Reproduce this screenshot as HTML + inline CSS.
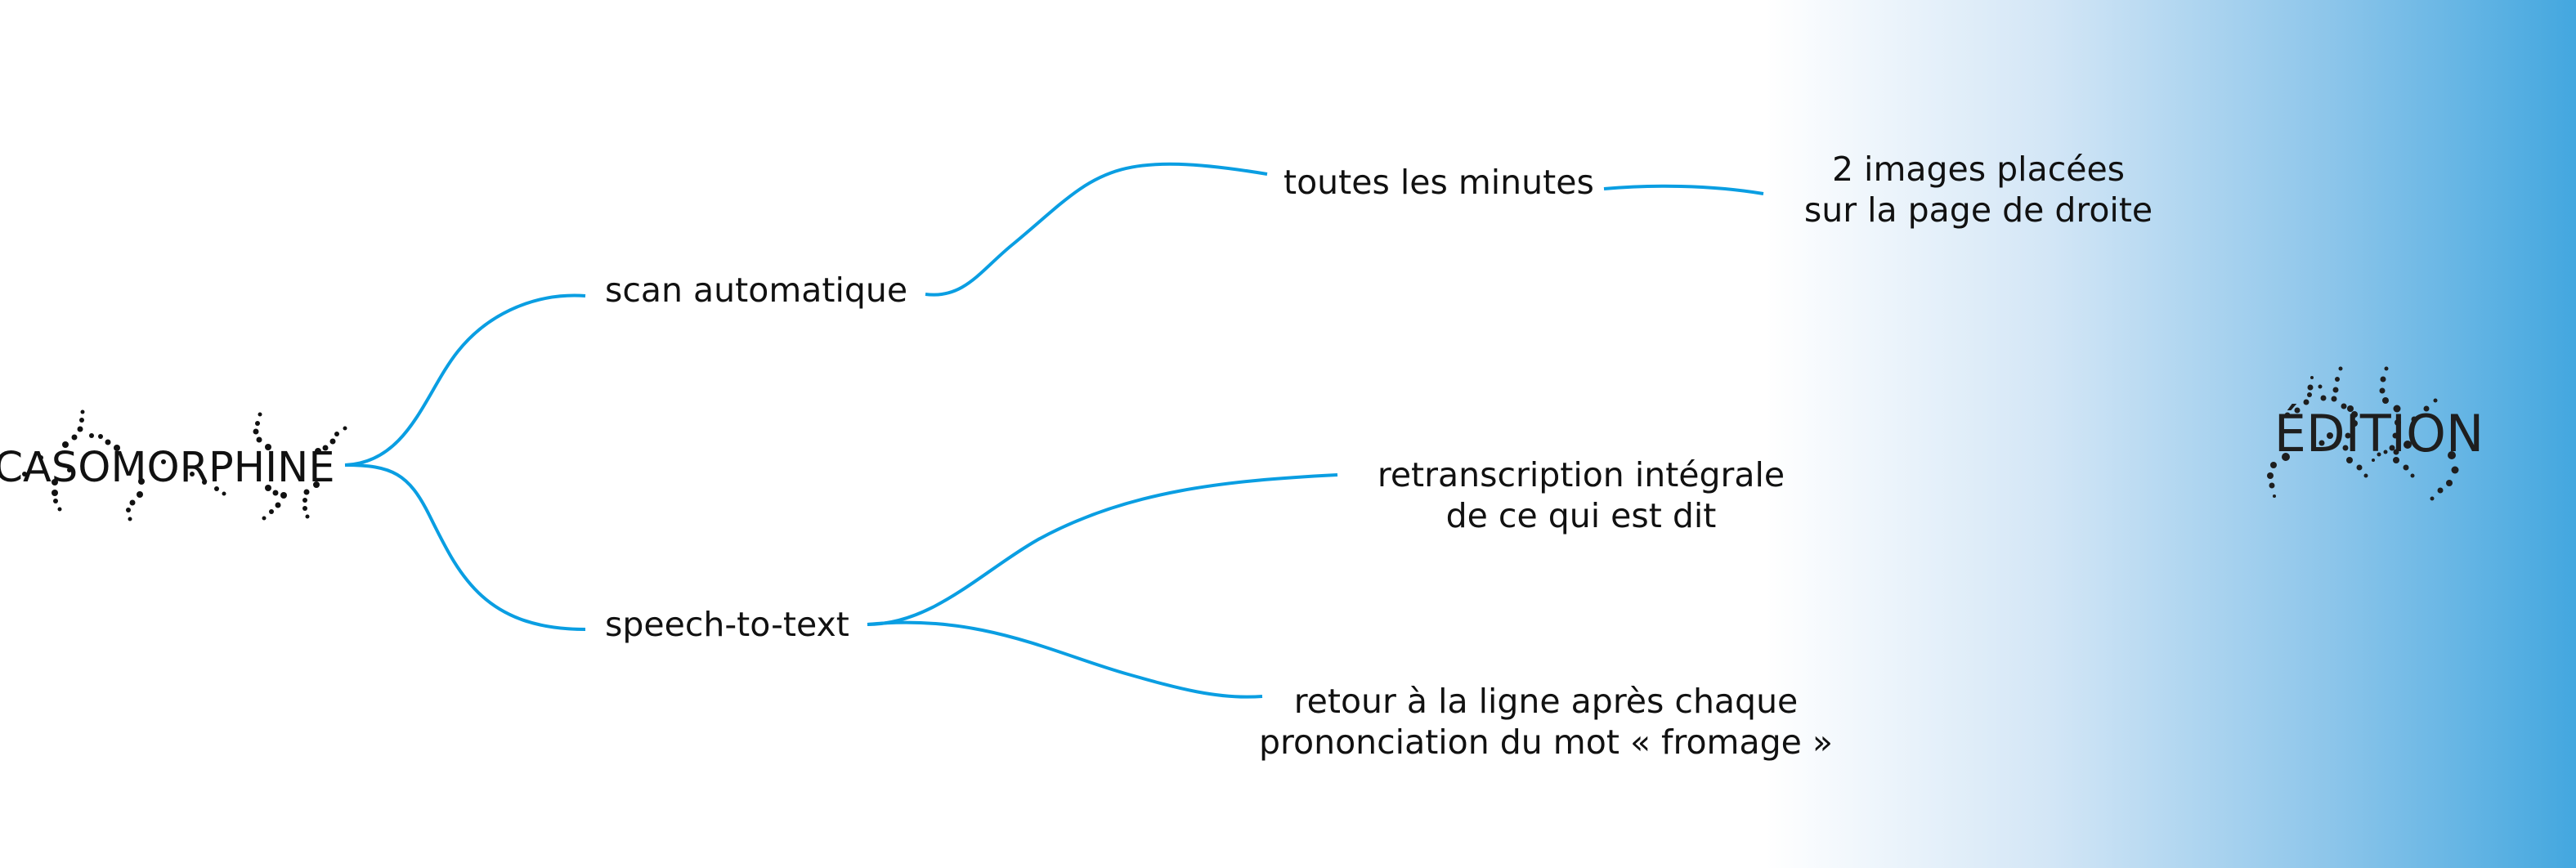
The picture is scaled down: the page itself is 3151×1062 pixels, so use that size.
<!DOCTYPE html>
<html><head><meta charset="utf-8"><style>
html,body{margin:0;padding:0;background:#fff}
svg{display:block}
text{font-family:"DejaVu Sans","Liberation Sans",sans-serif;fill:#111}
</style></head><body>
<svg width="3151" height="1062" viewBox="0 0 3151 1062" xmlns="http://www.w3.org/2000/svg">
<defs><linearGradient id="g" x1="2160" y1="0" x2="3151" y2="0" gradientUnits="userSpaceOnUse">
<stop offset="0" stop-color="#ffffff"/><stop offset="0.35" stop-color="#d3e6f6"/><stop offset="0.7" stop-color="#8cc5ea"/><stop offset="1" stop-color="#43a7df"/></linearGradient></defs>
<rect x="2160" y="0" width="991" height="1062" fill="url(#g)"/>
<g fill="none" stroke="#0a9ee2" stroke-width="4">
<path d="M422,569 C500,566 520,480 560,430 C600,380 660,358 716,362"/>
<path d="M422,569 C480,569 500,580 525,630 C560,700 590,770 716,770"/>
<path d="M1132,360 C1180,366 1200,330 1240,298 C1340,215 1350,180 1550,213"/>
<path d="M1962,231 C2020,226 2090,226 2157,237"/>
<path d="M1061,764 C1140,764 1200,700 1270,660 C1380,600 1500,588 1636,581"/>
<path d="M1061,764 C1200,750 1290,800 1380,825 C1440,842 1490,856 1544,852"/>
</g>
<g font-size="41">
<text x="740" y="369">scan automatique</text>
<text x="1570" y="237">toutes les minutes</text>
<text x="2420" y="221" text-anchor="middle">2 images placées</text>
<text x="2420" y="271" text-anchor="middle">sur la page de droite</text>
<text x="1934" y="595" text-anchor="middle">retranscription intégrale</text>
<text x="1934" y="645" text-anchor="middle">de ce qui est dit</text>
<text x="740" y="778">speech-to-text</text>
<text x="1891" y="872" text-anchor="middle">retour à la ligne après chaque</text>
<text x="1891" y="922" text-anchor="middle">prononciation du mot « fromage »</text>
</g>
<text x="201" y="589" font-size="51" text-anchor="middle">CASOMORPHINE</text>
<text x="2910" y="552" font-size="62" text-anchor="middle" style="fill:#1e1e1e">ÉDITION</text>
<g fill="#111">
<circle cx="101" cy="504" r="2.5"/><circle cx="100" cy="514" r="3"/><circle cx="98" cy="525" r="3.5"/><circle cx="91" cy="535" r="3.5"/><circle cx="80" cy="544" r="4"/><circle cx="112" cy="533" r="3"/><circle cx="123" cy="534" r="3"/><circle cx="132" cy="541" r="3.5"/><circle cx="143" cy="548" r="4"/><circle cx="67" cy="590" r="4"/><circle cx="67" cy="603" r="4"/><circle cx="68" cy="613" r="3"/><circle cx="73" cy="623" r="2.5"/><circle cx="171" cy="605" r="4"/><circle cx="162" cy="615" r="3.5"/><circle cx="157" cy="624" r="3"/><circle cx="159" cy="635" r="2.5"/><circle cx="173" cy="589" r="4"/><circle cx="265" cy="598" r="3"/><circle cx="274" cy="604" r="2.5"/><circle cx="318" cy="507" r="2.5"/><circle cx="315" cy="518" r="3"/><circle cx="313" cy="528" r="3.5"/><circle cx="317" cy="538" r="3.5"/><circle cx="328" cy="547" r="4"/><circle cx="328" cy="597" r="4"/><circle cx="337" cy="603" r="3.5"/><circle cx="347" cy="606" r="4"/><circle cx="340" cy="618" r="3.5"/><circle cx="332" cy="626" r="3"/><circle cx="323" cy="634" r="2.5"/><circle cx="422" cy="524" r="2.5"/><circle cx="412" cy="531" r="3"/><circle cx="407" cy="540" r="3.5"/><circle cx="398" cy="548" r="3.5"/><circle cx="389" cy="552" r="4"/><circle cx="387" cy="593" r="4"/><circle cx="375" cy="602" r="3.5"/><circle cx="373" cy="612" r="3"/><circle cx="373" cy="622" r="3"/><circle cx="376" cy="632" r="2.5"/>
<circle cx="50" cy="560" r="3"/><circle cx="30" cy="580" r="3"/><circle cx="85" cy="575" r="3"/><circle cx="200" cy="565" r="3"/><circle cx="235" cy="580" r="3"/><circle cx="250" cy="590" r="3"/>
</g>
<g fill="#1e1e1e">
<circle cx="2863" cy="451" r="2.5"/><circle cx="2859" cy="464" r="3"/><circle cx="2857" cy="477" r="3.5"/><circle cx="2855" cy="488" r="3.5"/><circle cx="2867" cy="497" r="3.5"/><circle cx="2875" cy="500" r="4"/><circle cx="2880" cy="507" r="4"/><circle cx="2880" cy="518" r="4"/><circle cx="2872" cy="533" r="3.5"/><circle cx="2869" cy="548" r="3.5"/><circle cx="2874" cy="563" r="4"/><circle cx="2886" cy="572" r="3.5"/><circle cx="2894" cy="582" r="2.5"/><circle cx="2919" cy="451" r="2.5"/><circle cx="2915" cy="464" r="3.5"/><circle cx="2914" cy="478" r="3.5"/><circle cx="2918" cy="490" r="4"/><circle cx="2932" cy="500" r="4.5"/><circle cx="2933" cy="517" r="4"/><circle cx="2930" cy="533" r="3.5"/><circle cx="2931" cy="553" r="3.5"/><circle cx="2931" cy="563" r="4"/><circle cx="2943" cy="572" r="3.5"/><circle cx="2951" cy="582" r="2.5"/><circle cx="2828" cy="462" r="2"/><circle cx="2826" cy="474" r="3.5"/><circle cx="2825" cy="483" r="3"/><circle cx="2821" cy="492" r="3.5"/><circle cx="2810" cy="502" r="3.5"/><circle cx="2798" cy="508" r="3.5"/><circle cx="2796" cy="559" r="5"/><circle cx="2781" cy="569" r="4"/><circle cx="2777" cy="582" r="4"/><circle cx="2779" cy="594" r="3.5"/><circle cx="2782" cy="607" r="2"/><circle cx="2979" cy="490" r="2.5"/><circle cx="2968" cy="500" r="3.5"/><circle cx="2953" cy="513" r="3.5"/><circle cx="2945" cy="544" r="5"/><circle cx="2926" cy="548" r="3.5"/><circle cx="2918" cy="553" r="2.5"/><circle cx="2910" cy="556" r="2.5"/><circle cx="2903" cy="563" r="2"/><circle cx="2999" cy="557" r="5"/><circle cx="3003" cy="575" r="4.5"/><circle cx="2996" cy="591" r="4"/><circle cx="2985" cy="600" r="3.5"/><circle cx="2975" cy="610" r="2.5"/><circle cx="2850" cy="533" r="4"/><circle cx="2840" cy="542" r="3.5"/><circle cx="2842" cy="487" r="3.5"/><circle cx="2838" cy="473" r="2.5"/>
</g>
</svg>
</body></html>
